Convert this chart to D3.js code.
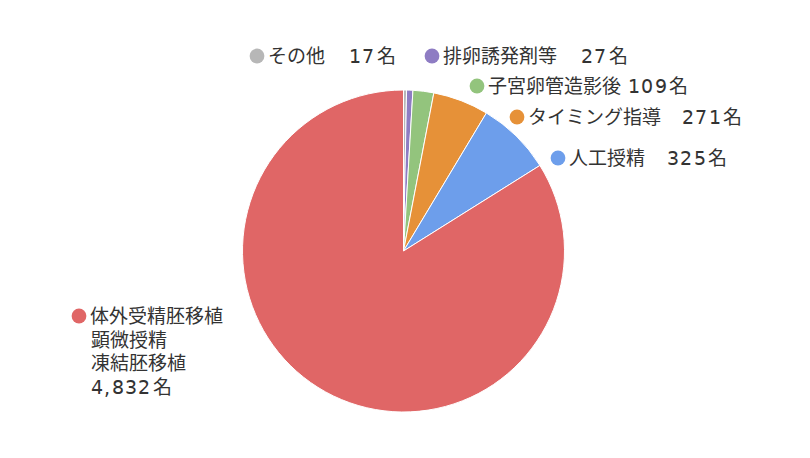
<!DOCTYPE html>
<html><head><meta charset="utf-8">
<script src="https://cdn.jsdelivr.net/npm/d3@7"></script>
<style>
@font-face{font-family:"JPLabel";src:local("Noto Sans CJK JP Regular"),local("NotoSansCJKjp-Regular"),local("Noto Sans CJK JP");ascent-override:88%;descent-override:12%;line-gap-override:0%;}
@font-face{font-family:"NumLabel";src:local("DejaVu Sans"),local("DejaVuSans");ascent-override:88%;descent-override:12%;line-gap-override:0%;}
html,body{margin:0;padding:0;background:#fff;}
text{font-family:"JPLabel","Noto Sans CJK JP","Noto Sans",sans-serif;}
.num{font-family:"NumLabel","DejaVu Sans","Noto Sans CJK JP",sans-serif;}
</style></head>
<body><svg id="c" width="810" height="458"></svg>
<script>
// categories (top, clockwise)
const categories = ["その他", "排卵誘発剤等", "子宮卵管造影後", "タイミング指導", "人工授精", "体外受精胚移植"];
const extraLines = [[], [], [], [], [], ["顕微授精", "凍結胚移植"]];
const countNumbers = ["17", "27", "109", "271", "325", "4,832"];
const countUnit = "名";
// slice sizes as drawn in the picture
const sliceValues = [17, 35, 116, 311, 416, 4669];
const colors = ["#b7b7b7", "#8e7cc3", "#93c47d", "#e69138", "#6d9eeb", "#e06666"];

// layout (label anchors: dot centre x, y; gap before the count)
const labelLayout = [
  {x: 257, y: 56, gap: 24},
  {x: 432, y: 56, gap: 24},
  {x: 477, y: 86, gap: 7},
  {x: 517, y: 117, gap: 21},
  {x: 558, y: 158, gap: 22},
  {x: 79, y: 316, gap: 0}
];

const svg = d3.select("#c");
const cx = 403.5, cy = 251, R = 161;
const pie = d3.pie().sort(null).value(d => d.v).startAngle(0).endAngle(2 * Math.PI);
const arc = d3.arc().innerRadius(0).outerRadius(R);
const data = sliceValues.map((v, i) => ({v, i}));
const g = svg.append("g").attr("transform", `translate(${cx},${cy})`);
g.selectAll("path").data(pie(data)).join("path")
  .attr("d", arc)
  .attr("fill", d => colors[d.data.i])
  .attr("stroke", "#fff").attr("stroke-width", 1);

const fs = 19, lineH = 23.5;
const lg = svg.append("g");
function addCount(t, i, dx, x) {
  const n = t.append("tspan").attr("class", "num").attr("letter-spacing", 1.3).text(countNumbers[i]);
  if (x !== undefined) n.attr("x", x).attr("dy", lineH); else n.attr("dx", dx);
  t.append("tspan").attr("dx", 1).text(countUnit);
}
function draw() {
  categories.forEach((c, i) => {
    const L = labelLayout[i];
    lg.append("circle").attr("cx", L.x).attr("cy", L.y).attr("r", 7.4).attr("fill", colors[i]);
    const t = lg.append("text").attr("x", L.x + 11).attr("y", L.y + 7)
      .attr("font-size", fs).attr("fill", "#333");
    t.append("tspan").text(c);
    if (extraLines[i].length === 0) {
      addCount(t, i, L.gap);
    } else {
      extraLines[i].forEach(s => {
        t.append("tspan").attr("x", L.x + 12).attr("dy", lineH).text(s);
      });
      addCount(t, i, 0, L.x + 12);
    }
  });
}
draw();
</script></body></html>
